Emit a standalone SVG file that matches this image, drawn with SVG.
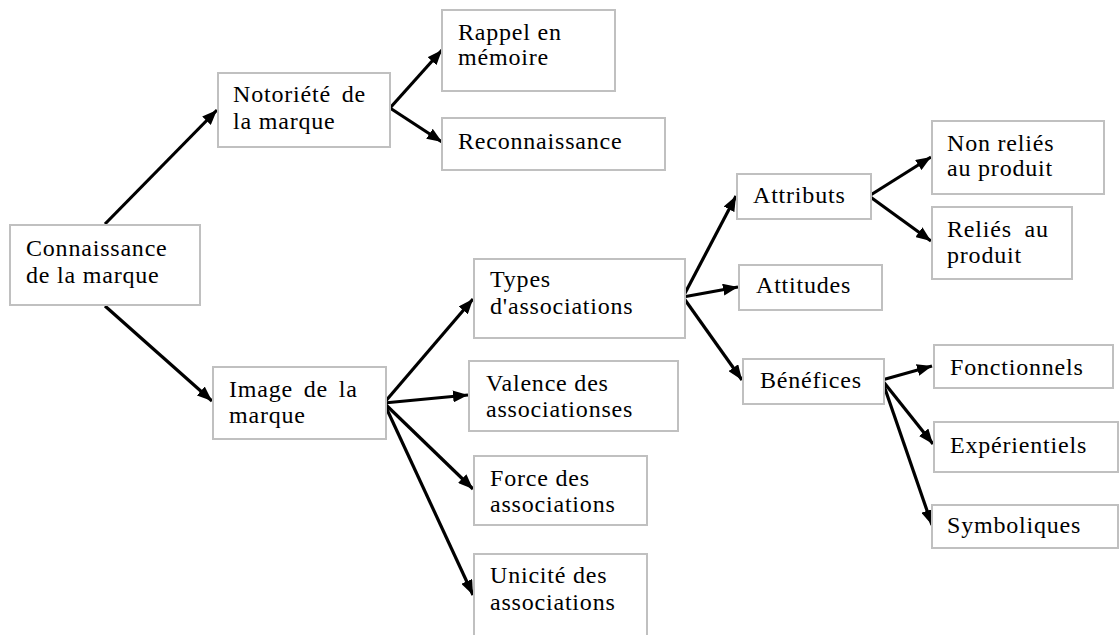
<svg xmlns="http://www.w3.org/2000/svg" width="1119" height="635" viewBox="0 0 1119 635">
<defs>
<marker id="ah" markerUnits="userSpaceOnUse" markerWidth="16" markerHeight="12" refX="15" refY="6" orient="auto">
<path d="M0,0 L15,6 L0,12 Z" fill="#000"/>
</marker>
</defs>
<rect width="1119" height="635" fill="#fff"/>
<g id="connectors" stroke="#000" stroke-width="3.2" fill="none" marker-end="url(#ah)">
<line x1="105" y1="224" x2="217" y2="110"/>
<line x1="105" y1="306" x2="212" y2="401"/>
<line x1="390" y1="108" x2="442" y2="50"/>
<line x1="390" y1="108" x2="442" y2="142"/>
<line x1="384" y1="403" x2="473" y2="299"/>
<line x1="384" y1="403" x2="468" y2="395"/>
<line x1="384" y1="403" x2="473" y2="489"/>
<line x1="384" y1="403" x2="473" y2="595"/>
<line x1="683" y1="297" x2="736" y2="196"/>
<line x1="683" y1="297" x2="738" y2="287"/>
<line x1="683" y1="297" x2="742" y2="380"/>
<line x1="869" y1="196" x2="931" y2="157"/>
<line x1="869" y1="196" x2="931" y2="241"/>
<line x1="882" y1="380" x2="932" y2="366"/>
<line x1="882" y1="380" x2="933" y2="444"/>
<line x1="882" y1="380" x2="932" y2="525"/>
</g>
<g id="nodes" font-family="Liberation Serif, serif" font-size="24" letter-spacing="0.8" fill="#000">
<g id="n-connaissance"><rect fill="#fff" stroke="#c0c0c0" stroke-width="2" x="10" y="225" width="190" height="80"/><text x="26" y="256">Connaissance</text><text x="26" y="283">de la marque</text></g>
<g id="n-notoriete"><rect fill="#fff" stroke="#c0c0c0" stroke-width="2" x="218" y="73" width="172" height="74"/><text x="233" y="102" word-spacing="4">Notoriété de</text><text x="233" y="129">la marque</text></g>
<g id="n-rappel"><rect fill="#fff" stroke="#c0c0c0" stroke-width="2" x="442" y="10" width="173" height="81"/><text x="458" y="40">Rappel en</text><text x="458" y="65">mémoire</text></g>
<g id="n-reconnaissance"><rect fill="#fff" stroke="#c0c0c0" stroke-width="2" x="442" y="118" width="223" height="52"/><text x="458" y="149">Reconnaissance</text></g>
<g id="n-image"><rect fill="#fff" stroke="#c0c0c0" stroke-width="2" x="213" y="367" width="173" height="72"/><text x="229" y="397" word-spacing="4">Image de la</text><text x="229" y="423">marque</text></g>
<g id="n-types"><rect fill="#fff" stroke="#c0c0c0" stroke-width="2" x="474" y="259" width="211" height="79"/><text x="490" y="287">Types</text><text x="490" y="314">d'associations</text></g>
<g id="n-valence"><rect fill="#fff" stroke="#c0c0c0" stroke-width="2" x="469" y="361" width="209" height="70"/><text x="486" y="391">Valence des</text><text x="486" y="417">associationses</text></g>
<g id="n-force"><rect fill="#fff" stroke="#c0c0c0" stroke-width="2" x="474" y="456" width="173" height="69"/><text x="490" y="486">Force des</text><text x="490" y="512">associations</text></g>
<g id="n-unicite"><rect fill="#fff" stroke="#c0c0c0" stroke-width="2" x="474" y="554" width="173" height="90"/><text x="490" y="583">Unicité des</text><text x="490" y="610">associations</text></g>
<g id="n-attributs"><rect fill="#fff" stroke="#c0c0c0" stroke-width="2" x="737" y="174" width="134" height="45"/><text x="753" y="203">Attributs</text></g>
<g id="n-attitudes"><rect fill="#fff" stroke="#c0c0c0" stroke-width="2" x="739" y="265" width="143" height="45"/><text x="756" y="293">Attitudes</text></g>
<g id="n-benefices"><rect fill="#fff" stroke="#c0c0c0" stroke-width="2" x="743" y="359" width="141" height="45"/><text x="760" y="388">Bénéfices</text></g>
<g id="n-nonrelies"><rect fill="#fff" stroke="#c0c0c0" stroke-width="2" x="932" y="121" width="172" height="73"/><text x="947" y="151">Non reliés</text><text x="947" y="176">au produit</text></g>
<g id="n-relies"><rect fill="#fff" stroke="#c0c0c0" stroke-width="2" x="932" y="207" width="140" height="72"/><text x="947" y="237" word-spacing="6">Reliés au</text><text x="947" y="263">produit</text></g>
<g id="n-fonctionnels"><rect fill="#fff" stroke="#c0c0c0" stroke-width="2" x="934" y="345" width="179" height="43"/><text x="950" y="375">Fonctionnels</text></g>
<g id="n-experientiels"><rect fill="#fff" stroke="#c0c0c0" stroke-width="2" x="934" y="422" width="184" height="50"/><text x="950" y="453">Expérientiels</text></g>
<g id="n-symboliques"><rect fill="#fff" stroke="#c0c0c0" stroke-width="2" x="932" y="505" width="186" height="43"/><text x="947" y="533">Symboliques</text></g>
</g>
</svg>
